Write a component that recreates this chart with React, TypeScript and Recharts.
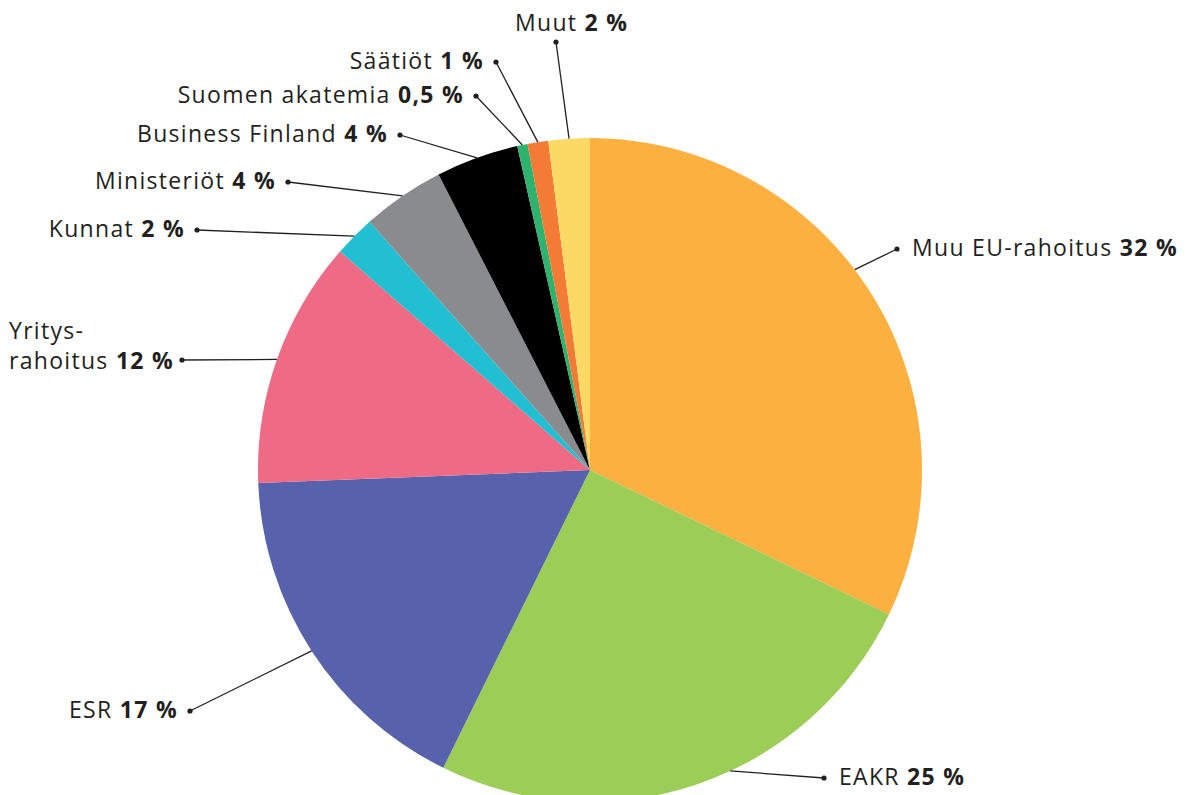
import { PieChart, Pie, Cell } from "recharts";

// funding sources, clockwise from 12 o'clock
const sources = [
  "Muu EU-rahoitus",
  "EAKR",
  "ESR",
  "Yritysrahoitus",
  "Kunnat",
  "Ministeriöt",
  "Business Finland",
  "Suomen akatemia",
  "Säätiöt",
  "Muut",
];
const shares = [32, 25, 17, 12, 2, 4, 4, 0.5, 1, 2];
const shareLabels = ["32 %", "25 %", "17 %", "12 %", "2 %", "4 %", "4 %", "0,5 %", "1 %", "2 %"];

const COLORS = [
  "#FBB040",
  "#9BCD57",
  "#5861AB",
  "#EF6A85",
  "#22BFD2",
  "#8A8B8F",
  "#000000",
  "#2DB36D",
  "#F47B36",
  "#FCD964",
];

const TEXT = "#231F20";
const FONT = "'Open Sans', sans-serif";
const FS = 23;
const LS = 1.3;

// callout placement: dot position, which side the text sits on, small angle nudge for line start
const CALLOUTS = [
  { dot: [897, 249], side: "right", nudge: 5 },
  { dot: [824, 778], side: "right", nudge: 6 },
  { dot: [190, 711], side: "left", nudge: 0 },
  { dot: [182, 360], side: "block", nudge: 0 },
  { dot: [197, 230], side: "left", nudge: 0 },
  { dot: [288, 182], side: "left", nudge: 0 },
  { dot: [400, 135], side: "left", nudge: 0 },
  { dot: [476, 96], side: "left", nudge: 0 },
  { dot: [496, 62], side: "left", nudge: 0 },
  { dot: [556, 42], side: "top", nudge: 0 },
];

const data = sources.map((name, i) => ({ name, value: shares[i], pct: shareLabels[i] }));

const RAD = Math.PI / 180;

function Callout(props: any) {
  const { cx, cy, midAngle, outerRadius, index } = props;
  const c = CALLOUTS[index];
  const a = (midAngle + c.nudge) * RAD;
  const sx = cx + outerRadius * Math.cos(-a);
  const sy = cy + outerRadius * Math.sin(-a);
  const [dx, dy] = c.dot;
  const d = data[index];
  const common = { fontSize: FS, fill: TEXT, fontFamily: FONT, letterSpacing: LS, dominantBaseline: "central" as const };

  let label;
  if (c.side === "block") {
    // two-line label, left aligned
    label = (
      <text x={9} y={dy} {...common}>
        <tspan x={9} dy={-30}>Yritys-</tspan>
        <tspan x={9} dy={30}>rahoitus </tspan>
        <tspan fontWeight={700}>{d.pct}</tspan>
      </text>
    );
  } else if (c.side === "top") {
    label = (
      <text x={dx - 41} y={dy - 20} {...common}>
        {d.name} <tspan fontWeight={700}>{d.pct}</tspan>
      </text>
    );
  } else {
    const right = c.side === "right";
    label = (
      <text x={right ? dx + 15 : dx - 12} y={dy - 2} textAnchor={right ? "start" : "end"} {...common}>
        {d.name} <tspan fontWeight={700}>{d.pct}</tspan>
      </text>
    );
  }

  return (
    <g>
      <line x1={sx} y1={sy} x2={dx} y2={dy} stroke={TEXT} strokeWidth={1.3} />
      <circle cx={dx} cy={dy} r={2.6} fill={TEXT} />
      {label}
    </g>
  );
}

export default function App() {
  return (
    <div style={{ position: "absolute", left: 0, top: 0, width: 1187, height: 795, background: "#fff" }}>
      <PieChart width={1187} height={795} margin={{ top: 0, right: 0, bottom: 0, left: 0 }}>
        <Pie
          data={data}
          dataKey="value"
          nameKey="name"
          cx={590}
          cy={470}
          outerRadius={332}
          startAngle={90}
          endAngle={-270}
          stroke="none"
          label={Callout}
          labelLine={false}
          isAnimationActive={false}
        >
          {data.map((d, i) => (
            <Cell key={d.name} fill={COLORS[i]} />
          ))}
        </Pie>
      </PieChart>
    </div>
  );
}
